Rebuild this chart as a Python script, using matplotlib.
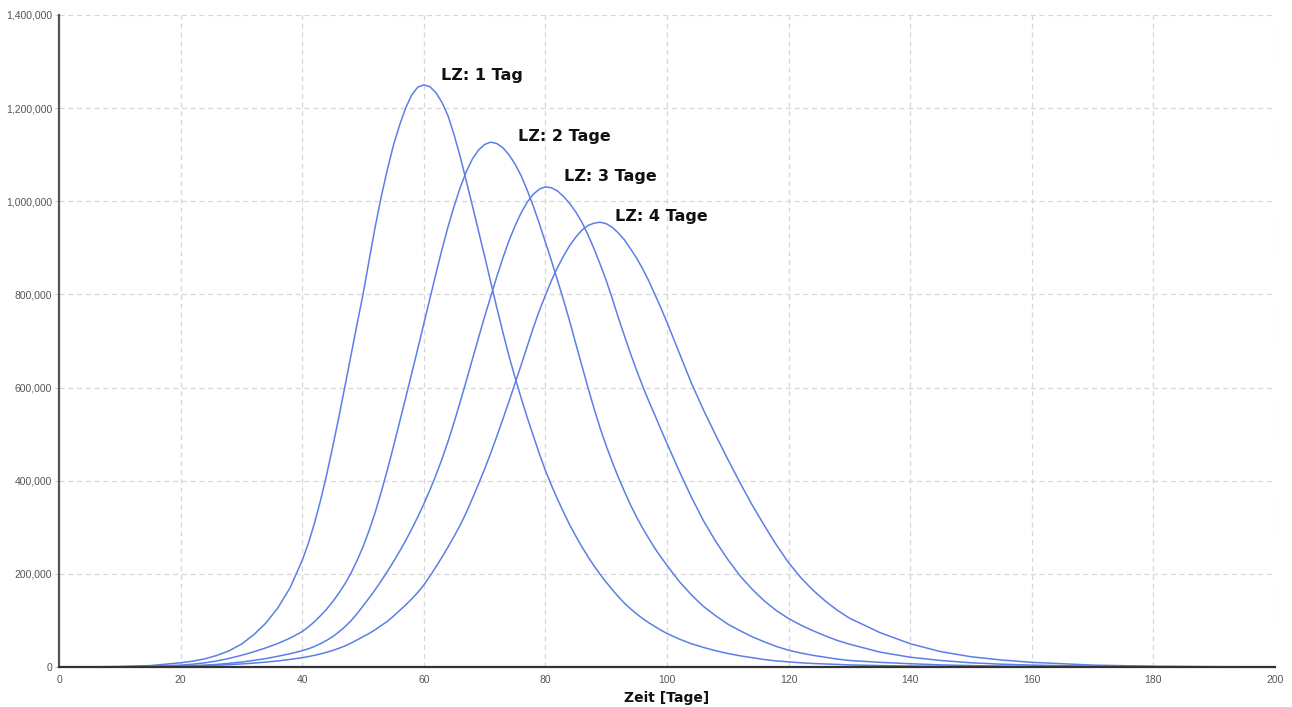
import matplotlib
matplotlib.use("Agg")
import matplotlib.pyplot as plt
from matplotlib.ticker import FuncFormatter

# Zeitachse in Tagen
tage = [0, 5, 10, 15, 20, 22, 24, 26, 28, 30, 32, 34, 36, 38,
        40, 41, 42, 43, 44, 45, 46, 47, 48, 49,
        50, 51, 52, 53, 54, 55, 56, 57, 58, 59,
        60, 61, 62, 63, 64, 65, 66, 67, 68, 69,
        70, 71, 72, 73, 74, 75, 76, 77, 78, 79,
        80, 81, 82, 83, 84, 85, 86, 87, 88, 89,
        90, 91, 92, 93, 94, 95, 96, 97, 98, 99,
        100, 102, 104, 106, 108, 110, 112, 114, 116, 118,
        120, 122, 124, 126, 128, 130,
        135, 140, 145, 150, 155, 160, 170, 180, 190, 200]

# Werte in Tausend
lz1 = [0.1, 0.3, 1, 3, 9, 12.5, 17.5, 25, 35, 49, 69, 94, 127, 170,
       229, 265, 308, 357, 412, 472, 535, 601, 668, 735,
       800, 873, 945, 1010, 1068, 1120, 1163, 1200, 1228, 1245,
       1250, 1246, 1233, 1212, 1183, 1142, 1095, 1043, 990, 936,
       882, 827, 772, 719, 668, 622, 578, 536, 497, 458,
       422, 390, 360, 332, 305, 281, 258, 237, 217, 199,
       182, 166, 151, 137, 125, 114, 104, 95, 87, 79,
       72, 60, 50, 42, 35, 29, 24, 20, 16, 13,
       11, 9, 7.5, 6.5, 5.5, 4.5,
       3, 2, 1.3, 0.9, 0.6, 0.4, 0.2, 0.1, 0.05, 0.02]

lz2 = [0.05, 0.2, 0.6, 1.8, 4, 6, 9, 13, 18.5, 25, 32.5, 41, 50.5, 62,
       76, 86, 97, 110, 124, 140, 158, 178, 201, 228,
       258, 293, 332, 376, 423, 473, 525, 577, 630, 683,
       737, 791, 845, 897, 946, 990, 1030, 1064, 1091, 1110,
       1122, 1127, 1124, 1115, 1100, 1080, 1055, 1024, 990, 952,
       912, 872, 830, 787, 742, 694, 647, 600, 555, 513,
       475, 440, 407, 377, 348, 322, 298, 276, 255, 236,
       218, 184, 155, 130, 110, 92, 78, 65, 54, 44,
       36, 30, 25, 21, 17, 14,
       10, 7, 4.5, 3, 2, 1.2, 0.5, 0.2, 0.1, 0.05]

lz3 = [0.02, 0.1, 0.3, 0.8, 2, 3, 4, 5.5, 8, 10.5, 14, 18, 23, 28.5,
       35, 39, 44, 50, 57, 65, 75, 86, 99, 114,
       131, 148, 166, 185, 205, 226, 248, 271, 296, 322,
       350, 380, 412, 447, 485, 526, 570, 615, 661, 707,
       752, 795, 838, 878, 915, 947, 975, 998, 1015, 1026,
       1031, 1029, 1022, 1010, 995, 977, 955, 928, 898, 865,
       830, 791, 750, 711, 673, 637, 603, 571, 541, 510,
       480, 421, 365, 314, 270, 231, 196, 167, 142, 121,
       104, 90, 78, 67, 57, 49,
       32, 21, 14, 9, 6, 4, 1.7, 0.7, 0.3, 0.1]

lz4 = [0.01, 0.05, 0.2, 0.6, 1.5, 2.2, 3, 4, 5, 6.5, 8.3, 10.5, 13, 16.2,
       20, 22.3, 25, 28, 31.5, 35.5, 40, 45, 51, 58,
       65, 72, 80, 89, 98, 109, 121, 133, 146, 160,
       176, 195, 215, 236, 258, 281, 305, 332, 362, 393,
       425, 459, 495, 532, 570, 609, 648, 688, 728, 765,
       798, 830, 858, 883, 905, 923, 938, 948, 953, 955,
       952, 944, 932, 917, 898, 878, 855, 829, 800, 771,
       740, 675, 610, 552, 498, 446, 396, 348, 304, 262,
       224, 192, 165, 142, 122, 105,
       74, 50, 33, 22, 15, 10, 4, 1.6, 0.6, 0.3]

serien = [lz1, lz2, lz3, lz4]
beschriftungen = ["LZ: 1 Tag", "LZ: 2 Tage", "LZ: 3 Tage", "LZ: 4 Tage"]
label_pos = [(62.8, 1269000), (75.5, 1140000), (83.1, 1054000), (91.4, 968000)]

blau = "#5b7fe6"

fig = plt.figure(figsize=(12.92, 7.07), dpi=100)
ax = fig.add_axes([0.0457, 0.0566, 0.9411, 0.9222])

for werte in serien:
    ax.plot(tage, [w * 1000 for w in werte], color=blau, linewidth=1.1,
            solid_joinstyle="round", zorder=3)

for text, (x, y) in zip(beschriftungen, label_pos):
    ax.text(x, y, text, fontsize=11.5, fontweight="bold", color="#111111",
            va="center", ha="left", family="DejaVu Sans")

ax.set_xlim(0, 200)
ax.set_ylim(0, 1400000)
ax.set_xticks(range(0, 201, 20))
ax.set_yticks(range(0, 1400001, 200000))
ax.yaxis.set_major_formatter(FuncFormatter(lambda v, p: f"{int(v):,}"))

ax.grid(True, color="#d6d6d6", linestyle=(0, (4, 3)), linewidth=0.9, zorder=0)
ax.set_axisbelow(True)

for s in ["top", "right"]:
    ax.spines[s].set_visible(False)
ax.spines["left"].set_color("#555555")
ax.spines["left"].set_linewidth(1.6)
ax.spines["bottom"].set_color("#333333")
ax.spines["bottom"].set_linewidth(1.6)
ax.spines["bottom"].set_zorder(4)

ax.tick_params(axis="y", length=3, color="#cccccc", labelsize=7.5,
               labelcolor="#555555", pad=2)
ax.tick_params(axis="x", length=0, labelsize=7.5, labelcolor="#555555", pad=6)
for t in ax.get_xticklabels() + ax.get_yticklabels():
    t.set_family("Liberation Sans")

ax.set_xlabel("Zeit [Tage]", fontsize=10, fontweight="bold", color="#111111",
              labelpad=4, family="DejaVu Sans")

fig.savefig("out.png", dpi=100)
